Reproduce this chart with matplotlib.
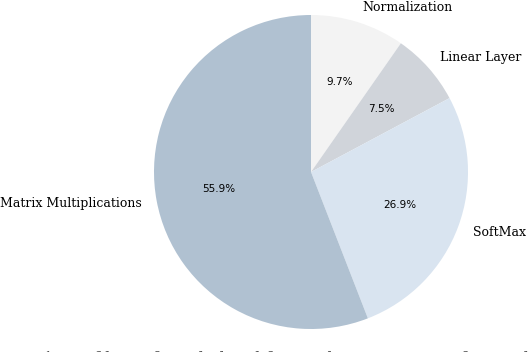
import matplotlib.pyplot as plt

labels = ['Normalization', 'Linear Layer', 'SoftMax', 'Matrix Multiplications']
shares = [9.7, 7.5, 26.9, 55.9]
colors = ['#f3f3f3', '#d0d4da', '#d9e4f0', '#b0c1d1']
caption = 'Fig. 1: Profiling of single-head forward pass in a transformer layer'

fig = plt.figure(figsize=(5.28, 3.52), dpi=100)
ax = fig.add_axes([(311 - 157) / 528, 1 - (172 + 157) / 352, 314 / 528, 314 / 352])

wedges, texts, autotexts = ax.pie(shares, labels=labels, colors=colors,
                                  autopct='%1.1f%%', startangle=90, counterclock=False,
                                  pctdistance=0.6, labeldistance=1.1)
for t in texts:
    t.set_fontfamily('DejaVu Serif')
    t.set_fontsize(9)
    t.set_clip_on(False)
for t in autotexts:
    t.set_fontsize(7.5)
ax.set_xlim(-1, 1)
ax.set_ylim(-1, 1)
ax.set_aspect('equal')

fig.text(0.01, 0.5 / 352, caption, fontsize=12, family='DejaVu Serif', color='#555555', va='top')

fig.savefig('out.png', dpi=100)
